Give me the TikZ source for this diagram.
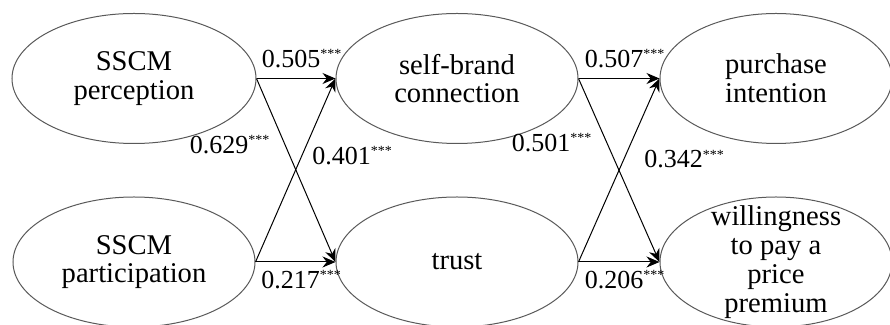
\documentclass[tikz,border=0pt]{standalone}
\usepackage{fontspec}
\setmainfont{Liberation Serif}
\usetikzlibrary{arrows.meta, shapes.geometric}
\tikzset{>={Stealth[length=6.5pt,width=5.5pt]}}
\tikzset{
  construct/.style={ellipse, draw=black!65, line width=0.5pt, inner sep=-10pt,
    minimum height=65pt, align=center, font=\fontsize{14.3}{14.4}\selectfont},
  coef/.style={font=\fontsize{13}{14}\selectfont, inner sep=1pt},
  link/.style={->, line width=0.5pt}
}
\newcommand{\sig}[1]{#1\textsuperscript{\fontsize{7}{8}\selectfont ***}}

\begin{document}
\begin{tikzpicture}[x=0.5pt, y=-0.5pt]
      \useasboundingbox (0,0) rectangle (890,325);

      \node[construct, minimum width=122pt] (perc) at (134,78.5) {SSCM\\perception};
      \node[construct, minimum width=121pt] (part) at (134,262) {SSCM\\participation};
      \node[construct, minimum width=121pt] (sbc) at (457,78.5) {self-brand\\connection};
      \node[construct, minimum width=121pt] (trust) at (457,262) {trust};
      \node[construct, minimum width=116pt] (pi) at (776,78.5) {purchase\\intention};
      \node[construct, minimum width=116pt] (wpp) at (776,262) {willingness\\to pay a\\price\\premium};

      \draw[link] (perc.east) -- node[coef, above=4pt, xshift=3pt] {\sig{0.505}} (sbc.west);
      \draw[link] (perc.east) -- node[coef, pos=0.36, left=6pt] {\sig{0.629}} (trust.west);
      \draw[link] (part.east) -- node[coef, pos=0.58, right=4pt] {\sig{0.401}} (sbc.west);
      \draw[link] (part.east) -- node[coef, below=3pt, xshift=3pt] {\sig{0.217}} (trust.west);

      \draw[link] (sbc.east) -- node[coef, above=4pt, xshift=3pt] {\sig{0.507}} (pi.west);
      \draw[link] (sbc.east) -- node[coef, pos=0.35, left=6pt] {\sig{0.501}} (wpp.west);
      \draw[link] (trust.east) -- node[coef, pos=0.56, right=9pt] {\sig{0.342}} (pi.west);
      \draw[link] (trust.east) -- node[coef, below=3pt, xshift=3pt] {\sig{0.206}} (wpp.west);
\end{tikzpicture}
\end{document}
